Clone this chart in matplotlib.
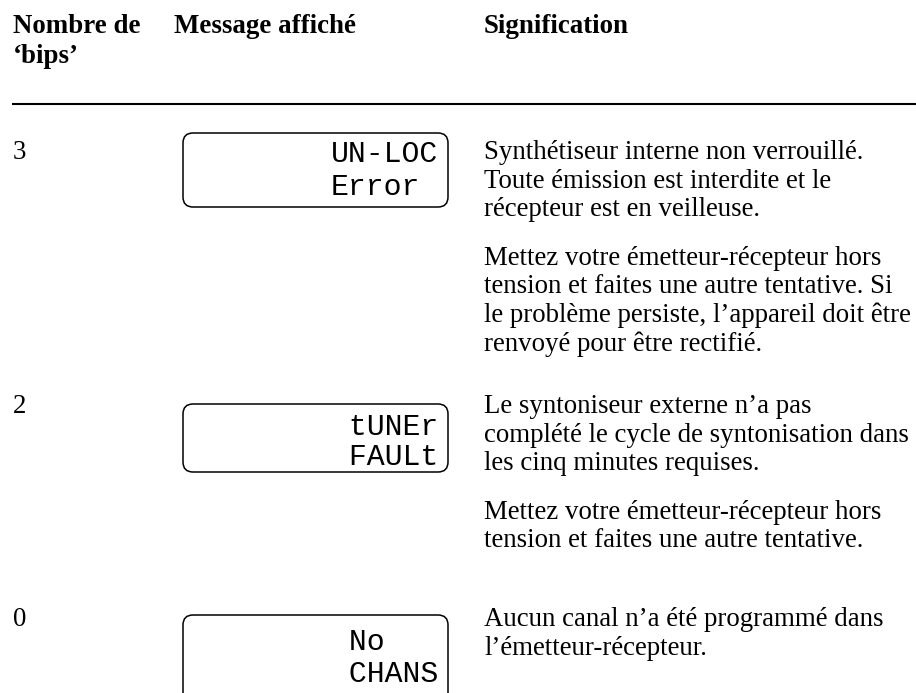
import matplotlib.pyplot as plt
from matplotlib.patches import FancyBboxPatch

# Table content
headers = ["Nombre de", "Message affiché", "Signification"]
header_sub = "\u2018bips\u2019"
beeps = ["3", "2", "0"]
lcd_lines = [
    ["UN-LOC", "Error"],
    [" tUNEr", " FAULt"],
    [" No", " CHANS"],
]
meanings = [
    [
        ["Synthétiseur interne non verrouillé.",
         "Toute émission est interdite et le",
         "récepteur est en veilleuse."],
        ["Mettez votre émetteur-récepteur hors",
         "tension et faites une autre tentative. Si",
         "le problème persiste, l\u2019appareil doit être",
         "renvoyé pour être rectifié."],
    ],
    [
        ["Le syntoniseur externe n\u2019a pas",
         "complété le cycle de syntonisation dans",
         "les cinq minutes requises."],
        ["Mettez votre émetteur-récepteur hors",
         "tension et faites une autre tentative."],
    ],
    [
        ["Aucun canal n\u2019a été programmé dans",
         "l\u2019émetteur-récepteur."],
    ],
]

# Layout (pixel space)
W, H = 916, 693
col_x = [13, 174, 484]
row_top = [159, 413, 626]          # baseline of first text line per row
box_top = [133, 404, 615]
box_h = [74, 68, 88]
lcd_base = [[162, 195], [435, 465], [650, 682]]
line_h = 28.6
para_gap = 20
box_x0, box_x1 = 183, 448
lcd_x = 331

serif = "Liberation Serif"
fs = 19.4

fig = plt.figure(figsize=(W / 100, H / 100), dpi=100)
ax = fig.add_axes([0, 0, 1, 1])
ax.set_xlim(0, W)
ax.set_ylim(H, 0)
ax.axis("off")

# Header
for x, h in zip(col_x, headers):
    ax.text(x, 33, h, family=serif, weight="bold", fontsize=fs, va="baseline", ha="left")
ax.text(col_x[0], 63, header_sub, family=serif, weight="bold", fontsize=fs,
        va="baseline", ha="left")
ax.plot([12, W], [104, 104], color="black", lw=1.5, solid_capstyle="butt")

for i, top in enumerate(row_top):
    ax.text(col_x[0], top, beeps[i], family=serif, fontsize=fs, va="baseline")

    # LCD display box
    box = FancyBboxPatch((box_x0, box_top[i]), box_x1 - box_x0, box_h[i],
                         boxstyle="round,pad=0,rounding_size=10",
                         fc="none", ec="black", lw=1.1)
    ax.add_patch(box)
    for txt, yb in zip(lcd_lines[i], lcd_base[i]):
        ax.text(lcd_x, yb, txt, family="Liberation Mono",
                fontsize=21.5, va="baseline", ha="left", color="black")

    # Meaning paragraphs
    y = top
    for p, para in enumerate(meanings[i]):
        if p > 0:
            y += para_gap
        for line in para:
            ax.text(col_x[2], y, line, family=serif, fontsize=fs, va="baseline", ha="left")
            y += line_h

fig.savefig("out.png", dpi=100, facecolor="white")
